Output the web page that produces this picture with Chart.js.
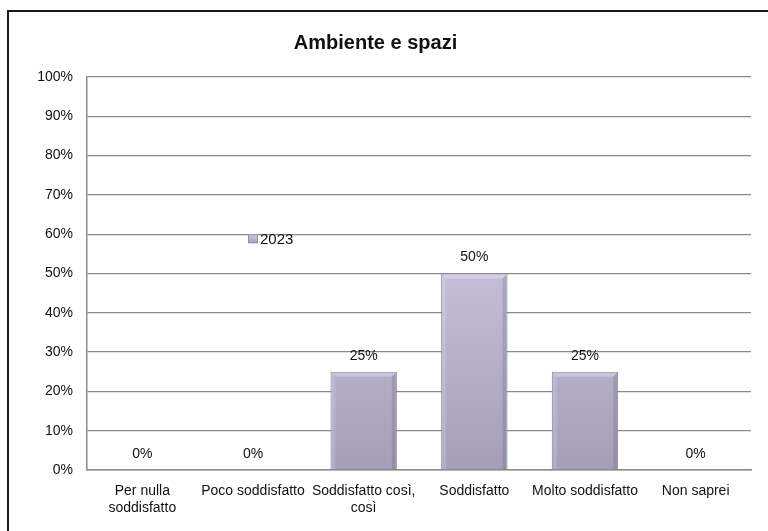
<!DOCTYPE html>
<html>
<head>
<meta charset="utf-8">
<style>
  html, body { margin: 0; padding: 0; background: #fff; }
  #wrap { width: 768px; height: 531px; position: relative; }
</style>
<script src="https://cdn.jsdelivr.net/npm/chart.js@4/dist/chart.umd.min.js"></script>
</head>
<body>
<div id="wrap"><canvas id="chart" width="768" height="531"></canvas></div>
<script>
const categories = ['Per nulla\nsoddisfatto', 'Poco soddisfatto', 'Soddisfatto così,\ncosì', 'Soddisfatto', 'Molto soddisfatto', 'Non saprei'];
const values2023 = [0, 0, 25, 50, 25, 0];
const yTicks = [0, 10, 20, 30, 40, 50, 60, 70, 80, 90, 100];
const seriesName = '2023';

const FONT = "'Liberation Sans', Arial, sans-serif";

// frame around the chart (only left and top edges fall inside the window)
const framePlugin = {
  id: 'frame',
  beforeDraw(chart) {
    const ctx = chart.ctx;
    ctx.save();
    ctx.strokeStyle = '#1a1a1a';
    ctx.lineWidth = 2;
    ctx.beginPath();
    ctx.moveTo(8, chart.height + 5);
    ctx.lineTo(8, 11);
    ctx.lineTo(chart.width + 5, 11);
    ctx.stroke();
    ctx.restore();
  }
};

// soft bevel on the bars: light top/left rim, darker right rim
const bevel = {
  id: 'bevel',
  afterDatasetsDraw(chart) {
    const ctx = chart.ctx;
    ctx.save();
    chart.getDatasetMeta(0).data.forEach((bar) => {
      const h = bar.base - bar.y;
      if (h < 2) return;
      const l = bar.x - bar.width / 2, r = bar.x + bar.width / 2, t = bar.y;
      const e = 5;
      ctx.fillStyle = 'rgba(255,255,255,0.28)';
      ctx.beginPath();
      ctx.moveTo(l + 1, t + 1); ctx.lineTo(r - 1, t + 1); ctx.lineTo(r - e, t + e); ctx.lineTo(l + e, t + e);
      ctx.closePath(); ctx.fill();
      ctx.fillStyle = 'rgba(255,255,255,0.14)';
      ctx.beginPath();
      ctx.moveTo(l + 1, t + 1); ctx.lineTo(l + e, t + e); ctx.lineTo(l + e, bar.base); ctx.lineTo(l + 1, bar.base);
      ctx.closePath(); ctx.fill();
      ctx.fillStyle = 'rgba(60,50,80,0.16)';
      ctx.beginPath();
      ctx.moveTo(r - 1, t + 1); ctx.lineTo(r - e, t + e); ctx.lineTo(r - e, bar.base); ctx.lineTo(r - 1, bar.base);
      ctx.closePath(); ctx.fill();
    });
    ctx.restore();
  }
};

// percentage above each bar
const valueLabels = {
  id: 'valueLabels',
  afterDatasetsDraw(chart) {
    const ctx = chart.ctx;
    const meta = chart.getDatasetMeta(0);
    ctx.save();
    ctx.font = '14px ' + FONT;
    ctx.fillStyle = '#111';
    ctx.textAlign = 'center';
    ctx.textBaseline = 'bottom';
    meta.data.forEach((bar, i) => {
      ctx.fillText(values2023[i] + '%', bar.x, bar.y - 9);
    });
    ctx.restore();
  }
};

// legend sits inside the plot, near the second category at ~60%
const inlineLegend = {
  id: 'inlineLegend',
  afterDraw(chart) {
    const ctx = chart.ctx;
    const x = chart.scales.x.getPixelForValue(1) - 5;
    const y = chart.scales.y.getPixelForValue(60) + 5;
    const g = ctx.createLinearGradient(0, y - 5, 0, y + 5);
    g.addColorStop(0, '#d3cbe3');
    g.addColorStop(1, '#a099b3');
    ctx.save();
    ctx.fillStyle = g;
    ctx.fillRect(x, y - 5, 10, 9);
    ctx.strokeStyle = '#958da6';
    ctx.lineWidth = 1;
    ctx.strokeRect(x + 0.5, y - 4.5, 9, 8);
    ctx.font = '15px ' + FONT;
    ctx.fillStyle = '#111';
    ctx.textAlign = 'left';
    ctx.textBaseline = 'middle';
    ctx.fillText(seriesName, x + 12, y + 1);
    ctx.restore();
  }
};

const ctx = document.getElementById('chart').getContext('2d');
new Chart(ctx, {
  type: 'bar',
  data: {
    labels: categories.map(c => c.split('\n')),
    datasets: [{
      label: seriesName,
      data: values2023,
      backgroundColor: (c) => {
        const area = c.chart.chartArea;
        if (!area) return '#b5adc8';
        const g = c.chart.ctx.createLinearGradient(0, area.top + 190, 0, area.bottom);
        g.addColorStop(0, '#c6bed9');
        g.addColorStop(1, '#a69eb9');
        return g;
      },
      borderColor: '#8d859e',
      borderWidth: 1,
      categoryPercentage: 0.6,
      barPercentage: 1
    }]
  },
  options: {
    responsive: false,
    animation: false,
    layout: { padding: { left: 0, right: 17, top: 0, bottom: 0 } },
    plugins: {
      legend: { display: false },
      tooltip: { enabled: false },
      title: {
        display: true,
        text: 'Ambiente e spazi',
        color: '#111',
        font: { family: FONT, size: 20, weight: 'bold', lineHeight: 1.2 },
        padding: { top: 31, bottom: 22 }
      }
    },
    scales: {
      x: {
        grid: { display: false, drawTicks: false },
        border: { color: '#8a8a8a', width: 1.5 },
        ticks: {
          color: '#111',
          font: { family: FONT, size: 14 },
          padding: 13,
          maxRotation: 0,
          autoSkip: false
        },
        afterFit: (s) => { s.height = 61; }
      },
      y: {
        min: 0,
        max: 100,
        afterBuildTicks: (s) => { s.ticks = yTicks.map(v => ({ value: v })); },
        grid: { color: '#8a8a8a', lineWidth: 1.3, drawTicks: false },
        border: { color: '#8a8a8a', width: 1.5 },
        ticks: {
          color: '#111',
          font: { family: FONT, size: 14 },
          padding: 14,
          callback: (v) => v + '%'
        },
        afterFit: (s) => { s.width = 87; }
      }
    }
  },
  plugins: [framePlugin, bevel, valueLabels, inlineLegend]
});
</script>
</body>
</html>
